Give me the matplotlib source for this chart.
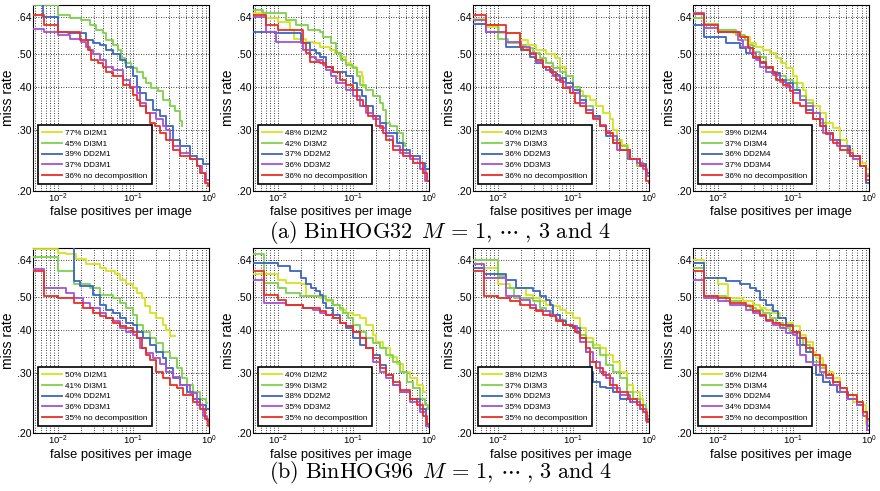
import matplotlib
matplotlib.use('Agg')
import matplotlib.pyplot as plt
from matplotlib.ticker import FixedLocator, FixedFormatter, LogLocator, NullFormatter, NullLocator

plt.rcParams['font.family'] = ['Liberation Sans', 'DejaVu Sans']
plt.rcParams['mathtext.fontset'] = 'custom'
plt.rcParams['mathtext.rm'] = 'Liberation Sans'
plt.rcParams['mathtext.it'] = 'Liberation Sans:italic'
plt.rcParams['mathtext.bf'] = 'Liberation Sans:bold'

# ---------------- data: (false positives per image, miss rate) ----------------
# (a) BinHOG32, M = 1
a1_di2 = [(0.0047, 0.95), (0.02, 0.90), (0.1, 0.83), (0.5, 0.76), (1.0, 0.74)]
a1_di3 = [(0.0047, 0.694), (0.01, 0.649), (0.0143, 0.635), (0.0204, 0.628), (0.0263, 0.607), (0.0323, 0.588),
          (0.0396, 0.575), (0.0438, 0.550), (0.0537, 0.532), (0.0625, 0.514), (0.0693, 0.487), (0.0767, 0.471),
          (0.094, 0.455), (0.110, 0.445), (0.134, 0.426), (0.149, 0.412), (0.173, 0.398), (0.212, 0.390),
          (0.248, 0.369), (0.303, 0.353), (0.354, 0.341), (0.412, 0.319), (0.434, 0.310), (0.44, 0.310)]
a1_dd2 = [(0.0047, 0.75), (0.0063, 0.640), (0.01, 0.581), (0.0136, 0.575), (0.0238, 0.550), (0.0292, 0.538),
          (0.0357, 0.532), (0.0438, 0.514), (0.0537, 0.500), (0.0659, 0.481), (0.0807, 0.460), (0.099, 0.431),
          (0.110, 0.400), (0.121, 0.385), (0.149, 0.369), (0.182, 0.345), (0.224, 0.330), (0.274, 0.309),
          (0.336, 0.282), (0.412, 0.270), (0.56, 0.253), (0.686, 0.247), (0.84, 0.239), (1.0, 0.239)]
a1_dd3 = [(0.0047, 0.590), (0.0065, 0.579), (0.01, 0.568), (0.0143, 0.552), (0.0204, 0.544), (0.0238, 0.526),
          (0.0263, 0.514), (0.0292, 0.500), (0.0357, 0.481), (0.0438, 0.460), (0.0537, 0.450), (0.073, 0.421),
          (0.0893, 0.400), (0.110, 0.385), (0.121, 0.360), (0.149, 0.337), (0.202, 0.323), (0.248, 0.309),
          (0.274, 0.300), (0.303, 0.282), (0.336, 0.270), (0.412, 0.258), (0.56, 0.247), (0.686, 0.236),
          (0.80, 0.226), (0.92, 0.216), (1.0, 0.216)]
a1_nod = [(0.0047, 0.652), (0.0065, 0.607), (0.01, 0.579), (0.0194, 0.550), (0.025, 0.514), (0.0277, 0.481),
          (0.034, 0.471), (0.0396, 0.460), (0.0438, 0.445), (0.0537, 0.431), (0.073, 0.407), (0.0893, 0.398),
          (0.099, 0.381), (0.110, 0.369), (0.121, 0.353), (0.149, 0.337), (0.165, 0.316), (0.192, 0.309),
          (0.224, 0.295), (0.274, 0.282), (0.336, 0.264), (0.412, 0.253), (0.56, 0.247), (0.686, 0.236),
          (0.76, 0.226), (0.88, 0.211), (0.96, 0.207), (1.0, 0.207)]

# (a) BinHOG32, M = 2
a2_di2 = [(0.0047, 0.657), (0.0070, 0.635), (0.01, 0.621), (0.0143, 0.588), (0.0166, 0.552), (0.0238, 0.544),
          (0.0292, 0.538), (0.0357, 0.526), (0.0486, 0.514), (0.0565, 0.503), (0.0659, 0.492), (0.0807, 0.471),
          (0.094, 0.460), (0.110, 0.445), (0.128, 0.431), (0.134, 0.400), (0.137, 0.400)]
a2_di3 = [(0.0047, 0.674), (0.0063, 0.657), (0.0129, 0.628), (0.0175, 0.607), (0.025, 0.588), (0.0357, 0.581),
          (0.0396, 0.562), (0.051, 0.538), (0.0594, 0.503), (0.0693, 0.481), (0.0807, 0.465), (0.099, 0.455),
          (0.110, 0.431), (0.121, 0.407), (0.149, 0.394), (0.182, 0.377), (0.224, 0.360), (0.248, 0.345),
          (0.274, 0.316), (0.303, 0.309), (0.372, 0.295), (0.456, 0.276), (0.48, 0.270), (0.49, 0.270)]
a2_dd2 = [(0.0047, 0.581), (0.0095, 0.575), (0.0204, 0.538), (0.0263, 0.514), (0.0323, 0.503), (0.0357, 0.492),
          (0.0438, 0.460), (0.0537, 0.445), (0.0807, 0.431), (0.099, 0.412), (0.110, 0.394), (0.128, 0.377),
          (0.149, 0.353), (0.182, 0.330), (0.224, 0.316), (0.274, 0.295), (0.372, 0.276), (0.456, 0.264),
          (0.56, 0.253), (0.76, 0.242), (0.885, 0.231), (1.0, 0.231)]
a2_dd3 = [(0.0047, 0.642), (0.0070, 0.581), (0.0095, 0.544), (0.0215, 0.514), (0.0263, 0.492), (0.0323, 0.481),
          (0.0396, 0.465), (0.0438, 0.450), (0.051, 0.431), (0.0594, 0.412), (0.0807, 0.394), (0.099, 0.377),
          (0.121, 0.353), (0.149, 0.337), (0.182, 0.323), (0.224, 0.305), (0.274, 0.289), (0.336, 0.270),
          (0.412, 0.258), (0.56, 0.247), (0.76, 0.231), (0.885, 0.214), (1.0, 0.214)]
a2_nod = [(0.0047, 0.649), (0.0070, 0.607), (0.01, 0.588), (0.0215, 0.538), (0.0238, 0.503), (0.0263, 0.476),
          (0.0357, 0.471), (0.0438, 0.460), (0.0537, 0.445), (0.0659, 0.421), (0.0807, 0.407), (0.099, 0.394),
          (0.110, 0.369), (0.134, 0.353), (0.157, 0.330), (0.202, 0.309), (0.248, 0.295), (0.274, 0.282),
          (0.336, 0.264), (0.456, 0.253), (0.619, 0.242), (0.84, 0.226), (0.95, 0.214), (1.0, 0.214)]

# (a) BinHOG32, M = 3
a3_di2 = [(0.0047, 0.631), (0.0070, 0.601), (0.0105, 0.575), (0.0194, 0.550), (0.025, 0.532), (0.0323, 0.514),
          (0.0438, 0.500), (0.0565, 0.487), (0.0659, 0.460), (0.0767, 0.450), (0.0807, 0.412), (0.099, 0.400),
          (0.110, 0.390), (0.134, 0.377), (0.165, 0.369), (0.202, 0.353), (0.248, 0.337), (0.303, 0.323),
          (0.336, 0.300), (0.372, 0.282), (0.434, 0.273), (0.532, 0.261), (0.55, 0.261)]
a3_di3 = [(0.0047, 0.614), (0.0070, 0.607), (0.01, 0.552), (0.0136, 0.538), (0.0194, 0.532), (0.0238, 0.520),
          (0.0292, 0.503), (0.0357, 0.487), (0.0438, 0.471), (0.0537, 0.455), (0.0659, 0.445), (0.0807, 0.431),
          (0.099, 0.400), (0.121, 0.377), (0.149, 0.353), (0.182, 0.330), (0.224, 0.309), (0.274, 0.295),
          (0.336, 0.282), (0.412, 0.270), (0.505, 0.247), (0.686, 0.236), (0.92, 0.226), (1.0, 0.226)]
a3_dd2 = [(0.0047, 0.612), (0.0070, 0.581), (0.0129, 0.526), (0.0204, 0.514), (0.0263, 0.492), (0.0323, 0.471),
          (0.0396, 0.460), (0.0438, 0.450), (0.0537, 0.435), (0.0659, 0.426), (0.0807, 0.412), (0.099, 0.394),
          (0.121, 0.369), (0.149, 0.345), (0.182, 0.330), (0.224, 0.309), (0.274, 0.289), (0.336, 0.276),
          (0.412, 0.264), (0.56, 0.247), (0.76, 0.239), (0.92, 0.226), (1.0, 0.226)]
a3_dd3 = [(0.0047, 0.628), (0.0070, 0.581), (0.0129, 0.544), (0.0204, 0.526), (0.0263, 0.503), (0.0323, 0.476),
          (0.0396, 0.460), (0.0438, 0.450), (0.0537, 0.431), (0.0659, 0.416), (0.0807, 0.400), (0.099, 0.385),
          (0.121, 0.360), (0.149, 0.345), (0.182, 0.326), (0.224, 0.312), (0.274, 0.298), (0.303, 0.289),
          (0.372, 0.264), (0.532, 0.247), (0.686, 0.242), (0.84, 0.231), (0.95, 0.221), (1.0, 0.221)]
a3_nod = [(0.0047, 0.649), (0.0070, 0.607), (0.0129, 0.575), (0.0194, 0.526), (0.0215, 0.514), (0.0263, 0.500),
          (0.0323, 0.481), (0.0396, 0.460), (0.0486, 0.445), (0.0594, 0.421), (0.073, 0.398), (0.0893, 0.385),
          (0.104, 0.360), (0.121, 0.353), (0.149, 0.337), (0.182, 0.323), (0.224, 0.309), (0.274, 0.295),
          (0.336, 0.276), (0.412, 0.264), (0.56, 0.247), (0.76, 0.236), (0.92, 0.214), (1.0, 0.211)]

# (a) BinHOG32, M = 4
a4_di2 = [(0.0047, 0.659), (0.0065, 0.614), (0.01, 0.588), (0.0159, 0.575), (0.0204, 0.562), (0.0263, 0.538),
          (0.0323, 0.526), (0.0396, 0.514), (0.0486, 0.503), (0.0594, 0.487), (0.0693, 0.471), (0.0807, 0.455),
          (0.099, 0.431), (0.110, 0.412), (0.134, 0.394), (0.149, 0.369), (0.182, 0.353), (0.224, 0.337),
          (0.274, 0.316), (0.336, 0.305), (0.412, 0.282), (0.505, 0.264), (0.619, 0.253), (0.76, 0.242),
          (0.92, 0.231), (1.0, 0.231)]
a4_di3 = [(0.0047, 0.635), (0.0065, 0.614), (0.01, 0.588), (0.0175, 0.568), (0.0226, 0.550), (0.025, 0.532),
          (0.0292, 0.509), (0.0357, 0.492), (0.0438, 0.460), (0.0537, 0.440), (0.0659, 0.431), (0.0807, 0.421),
          (0.099, 0.412), (0.110, 0.394), (0.121, 0.377), (0.149, 0.360), (0.182, 0.337), (0.224, 0.316),
          (0.274, 0.295), (0.336, 0.282), (0.412, 0.270), (0.505, 0.258), (0.619, 0.247), (0.76, 0.236),
          (0.92, 0.224), (1.0, 0.224)]
a4_dd2 = [(0.0047, 0.607), (0.0065, 0.562), (0.0129, 0.538), (0.0194, 0.520), (0.0238, 0.503), (0.0292, 0.487),
          (0.0357, 0.471), (0.0438, 0.455), (0.0537, 0.440), (0.0659, 0.421), (0.0807, 0.412), (0.099, 0.394),
          (0.121, 0.369), (0.149, 0.345), (0.182, 0.323), (0.224, 0.309), (0.274, 0.295), (0.336, 0.282),
          (0.412, 0.270), (0.56, 0.253), (0.76, 0.236), (0.92, 0.211), (1.0, 0.211)]
a4_dd3 = [(0.0047, 0.657), (0.0065, 0.594), (0.01, 0.581), (0.0184, 0.550), (0.0215, 0.526), (0.0263, 0.503),
          (0.0323, 0.481), (0.0357, 0.460), (0.0438, 0.445), (0.0537, 0.435), (0.0659, 0.416), (0.0807, 0.400),
          (0.099, 0.385), (0.121, 0.369), (0.149, 0.353), (0.182, 0.337), (0.224, 0.323), (0.248, 0.295),
          (0.303, 0.282), (0.372, 0.270), (0.532, 0.258), (0.619, 0.247), (0.76, 0.236), (0.92, 0.221),
          (1.0, 0.221)]
a4_nod = [(0.0047, 0.654), (0.0065, 0.607), (0.01, 0.581), (0.0194, 0.562), (0.025, 0.520), (0.0292, 0.492),
          (0.0357, 0.476), (0.0438, 0.460), (0.0537, 0.445), (0.0594, 0.421), (0.073, 0.407), (0.0893, 0.390),
          (0.099, 0.360), (0.121, 0.353), (0.149, 0.337), (0.182, 0.323), (0.224, 0.309), (0.274, 0.292),
          (0.336, 0.276), (0.412, 0.264), (0.56, 0.253), (0.76, 0.236), (0.92, 0.216), (1.0, 0.216)]

# (b) BinHOG96, M = 1
b1_di2 = [(0.0047, 0.689), (0.01, 0.674), (0.0129, 0.666), (0.0175, 0.644), (0.0238, 0.623), (0.0357, 0.609),
          (0.0438, 0.595), (0.0565, 0.582), (0.0659, 0.562), (0.0807, 0.544), (0.099, 0.531), (0.110, 0.514),
          (0.128, 0.497), (0.141, 0.469), (0.165, 0.449), (0.202, 0.434), (0.248, 0.414), (0.274, 0.401),
          (0.303, 0.385), (0.36, 0.385)]
b1_di3 = [(0.0047, 0.652), (0.01, 0.595), (0.0166, 0.544), (0.0263, 0.531), (0.0357, 0.508), (0.0537, 0.497),
          (0.0659, 0.480), (0.0807, 0.464), (0.099, 0.444), (0.110, 0.414), (0.134, 0.396), (0.165, 0.379),
          (0.202, 0.366), (0.248, 0.346), (0.303, 0.331), (0.372, 0.309), (0.434, 0.289), (0.505, 0.276),
          (0.619, 0.264), (0.76, 0.252), (0.92, 0.244), (0.95, 0.244)]
b1_dd2 = [(0.0047, 0.70), (0.0166, 0.556), (0.0194, 0.538), (0.0292, 0.508), (0.0357, 0.475), (0.0438, 0.459),
          (0.0537, 0.449), (0.0659, 0.434), (0.0807, 0.419), (0.099, 0.414), (0.110, 0.396), (0.134, 0.379),
          (0.165, 0.362), (0.202, 0.346), (0.248, 0.331), (0.274, 0.309), (0.336, 0.289), (0.412, 0.276),
          (0.505, 0.264), (0.619, 0.252), (0.76, 0.241), (0.92, 0.235), (1.0, 0.235)]
b1_dd3 = [(0.0047, 0.602), (0.0065, 0.531), (0.0129, 0.514), (0.0166, 0.497), (0.0215, 0.480), (0.0263, 0.464),
          (0.0357, 0.449), (0.0438, 0.434), (0.0537, 0.424), (0.0659, 0.405), (0.0807, 0.396), (0.099, 0.387),
          (0.110, 0.379), (0.121, 0.354), (0.149, 0.342), (0.182, 0.331), (0.224, 0.319), (0.274, 0.302),
          (0.336, 0.292), (0.412, 0.276), (0.56, 0.261), (0.686, 0.241), (0.84, 0.225), (0.95, 0.217),
          (1.0, 0.217)]
b1_nod = [(0.0047, 0.595), (0.0065, 0.502), (0.01, 0.497), (0.0166, 0.480), (0.0215, 0.464), (0.0292, 0.449),
          (0.0357, 0.439), (0.0438, 0.434), (0.0537, 0.419), (0.0659, 0.410), (0.0807, 0.405), (0.099, 0.396),
          (0.110, 0.379), (0.128, 0.354), (0.149, 0.338), (0.165, 0.327), (0.202, 0.302), (0.248, 0.289),
          (0.303, 0.276), (0.372, 0.270), (0.456, 0.258), (0.619, 0.246), (0.76, 0.235), (0.885, 0.220),
          (0.97, 0.210), (1.0, 0.210)]

# (b) BinHOG96, M = 2
b2_di2 = [(0.0047, 0.582), (0.01, 0.562), (0.0129, 0.550), (0.0204, 0.544), (0.0238, 0.502), (0.0357, 0.497),
          (0.0438, 0.486), (0.0537, 0.475), (0.0659, 0.459), (0.0807, 0.449), (0.099, 0.444), (0.121, 0.434),
          (0.149, 0.414), (0.182, 0.387), (0.202, 0.370), (0.248, 0.354), (0.303, 0.334), (0.372, 0.319),
          (0.456, 0.302), (0.56, 0.289), (0.686, 0.276), (0.84, 0.264), (0.88, 0.264)]
b2_di3 = [(0.0047, 0.666), (0.0065, 0.550), (0.01, 0.531), (0.0129, 0.514), (0.0194, 0.502), (0.0438, 0.491),
          (0.0537, 0.475), (0.0659, 0.464), (0.073, 0.449), (0.085, 0.434), (0.099, 0.414), (0.121, 0.396),
          (0.149, 0.379), (0.182, 0.366), (0.224, 0.354), (0.274, 0.338), (0.336, 0.323), (0.412, 0.302),
          (0.505, 0.282), (0.619, 0.270), (0.76, 0.252), (0.885, 0.241), (0.96, 0.235), (1.0, 0.235)]
b2_dd2 = [(0.0047, 0.630), (0.01, 0.616), (0.0143, 0.595), (0.0204, 0.569), (0.0238, 0.544), (0.0277, 0.531),
          (0.0323, 0.520), (0.0357, 0.508), (0.0396, 0.480), (0.0438, 0.464), (0.0537, 0.444), (0.0659, 0.419),
          (0.0807, 0.405), (0.099, 0.379), (0.121, 0.362), (0.149, 0.354), (0.182, 0.338), (0.224, 0.316),
          (0.274, 0.295), (0.336, 0.276), (0.412, 0.264), (0.56, 0.252), (0.76, 0.235), (0.92, 0.210),
          (1.0, 0.208)]
b2_dd3 = [(0.0047, 0.562), (0.0065, 0.480), (0.0129, 0.475), (0.0215, 0.464), (0.0292, 0.459), (0.0357, 0.449),
          (0.0438, 0.444), (0.0537, 0.434), (0.0659, 0.419), (0.0807, 0.410), (0.099, 0.396), (0.121, 0.379),
          (0.149, 0.354), (0.182, 0.323), (0.224, 0.302), (0.274, 0.289), (0.336, 0.276), (0.412, 0.264),
          (0.56, 0.246), (0.76, 0.230), (0.92, 0.210), (1.0, 0.208)]
b2_nod = [(0.0047, 0.595), (0.0065, 0.508), (0.01, 0.491), (0.0129, 0.475), (0.0215, 0.464), (0.0357, 0.454),
          (0.0438, 0.444), (0.0537, 0.434), (0.0659, 0.419), (0.0807, 0.410), (0.099, 0.396), (0.121, 0.379),
          (0.149, 0.354), (0.182, 0.331), (0.224, 0.309), (0.274, 0.295), (0.336, 0.282), (0.412, 0.267),
          (0.56, 0.252), (0.686, 0.241), (0.84, 0.225), (0.95, 0.212), (1.0, 0.212)]

# (b) BinHOG96, M = 3
b3_di2 = [(0.0047, 0.623), (0.0065, 0.609), (0.01, 0.544), (0.0143, 0.531), (0.0238, 0.508), (0.0292, 0.497),
          (0.0357, 0.486), (0.0438, 0.475), (0.0537, 0.469), (0.0659, 0.459), (0.0807, 0.449), (0.099, 0.434),
          (0.121, 0.405), (0.149, 0.379), (0.182, 0.362), (0.224, 0.354), (0.274, 0.338), (0.336, 0.323),
          (0.412, 0.302), (0.505, 0.276), (0.619, 0.264), (0.76, 0.252), (0.84, 0.235), (0.95, 0.220),
          (1.0, 0.220)]
b3_di3 = [(0.0047, 0.640), (0.01, 0.575), (0.0129, 0.531), (0.0166, 0.497), (0.0292, 0.486), (0.0357, 0.464),
          (0.0438, 0.454), (0.0537, 0.444), (0.0659, 0.429), (0.0807, 0.414), (0.099, 0.405), (0.121, 0.387),
          (0.149, 0.370), (0.182, 0.354), (0.224, 0.338), (0.274, 0.316), (0.336, 0.302), (0.412, 0.289),
          (0.505, 0.264), (0.619, 0.252), (0.76, 0.241), (0.92, 0.225), (1.0, 0.225)]
b3_dd2 = [(0.0047, 0.609), (0.0065, 0.582), (0.0129, 0.562), (0.0175, 0.531), (0.0292, 0.520), (0.0357, 0.502),
          (0.0438, 0.491), (0.0486, 0.475), (0.0537, 0.444), (0.0659, 0.424), (0.0807, 0.414), (0.099, 0.405),
          (0.121, 0.379), (0.149, 0.346), (0.165, 0.302), (0.182, 0.282), (0.224, 0.273), (0.274, 0.270),
          (0.336, 0.264), (0.412, 0.252), (0.56, 0.246), (0.76, 0.235), (0.92, 0.220), (1.0, 0.220)]
b3_dd3 = [(0.0047, 0.626), (0.0065, 0.569), (0.0129, 0.502), (0.0194, 0.491), (0.0263, 0.475), (0.0323, 0.459),
          (0.0396, 0.454), (0.0486, 0.444), (0.0594, 0.429), (0.073, 0.414), (0.0893, 0.410), (0.110, 0.392),
          (0.121, 0.370), (0.149, 0.346), (0.182, 0.323), (0.224, 0.302), (0.274, 0.289), (0.336, 0.270),
          (0.412, 0.258), (0.56, 0.246), (0.76, 0.235), (0.92, 0.217), (1.0, 0.217)]
b3_nod = [(0.0047, 0.595), (0.0065, 0.502), (0.01, 0.497), (0.0143, 0.486), (0.0194, 0.475), (0.0263, 0.464),
          (0.0323, 0.454), (0.0396, 0.444), (0.0486, 0.439), (0.0594, 0.424), (0.073, 0.414), (0.0893, 0.410),
          (0.104, 0.396), (0.121, 0.379), (0.149, 0.354), (0.165, 0.323), (0.202, 0.309), (0.248, 0.295),
          (0.303, 0.276), (0.372, 0.264), (0.532, 0.252), (0.686, 0.241), (0.84, 0.230), (0.95, 0.215),
          (1.0, 0.215)]

# (b) BinHOG96, M = 4
b4_di2 = [(0.0047, 0.640), (0.0065, 0.569), (0.01, 0.544), (0.0136, 0.497), (0.0215, 0.486), (0.0292, 0.475),
          (0.0357, 0.464), (0.0438, 0.459), (0.0537, 0.449), (0.0659, 0.434), (0.0807, 0.419), (0.099, 0.410),
          (0.121, 0.387), (0.149, 0.370), (0.182, 0.346), (0.202, 0.331), (0.248, 0.312), (0.274, 0.302),
          (0.336, 0.289), (0.412, 0.270), (0.505, 0.258), (0.619, 0.246), (0.76, 0.241), (0.92, 0.212),
          (1.0, 0.212)]
b4_di3 = [(0.0047, 0.607), (0.0065, 0.502), (0.0129, 0.486), (0.0204, 0.475), (0.0263, 0.464), (0.0323, 0.459),
          (0.0396, 0.449), (0.0486, 0.434), (0.0594, 0.419), (0.073, 0.405), (0.0893, 0.396), (0.099, 0.392),
          (0.121, 0.379), (0.134, 0.362), (0.165, 0.346), (0.182, 0.323), (0.224, 0.309), (0.274, 0.295),
          (0.336, 0.282), (0.412, 0.270), (0.505, 0.258), (0.686, 0.246), (0.84, 0.230), (0.95, 0.217),
          (1.0, 0.217)]
b4_dd2 = [(0.0047, 0.630), (0.0065, 0.569), (0.0129, 0.556), (0.0194, 0.544), (0.0263, 0.531), (0.0323, 0.520),
          (0.0357, 0.491), (0.0438, 0.475), (0.0537, 0.454), (0.0625, 0.434), (0.0807, 0.414), (0.099, 0.396),
          (0.110, 0.379), (0.121, 0.362), (0.149, 0.346), (0.182, 0.316), (0.202, 0.295), (0.248, 0.282),
          (0.303, 0.276), (0.372, 0.264), (0.532, 0.252), (0.686, 0.241), (0.84, 0.230), (0.95, 0.210),
          (1.0, 0.210)]
b4_dd3 = [(0.0047, 0.562), (0.0065, 0.497), (0.01, 0.486), (0.0143, 0.475), (0.0238, 0.459), (0.0292, 0.449),
          (0.0357, 0.439), (0.0438, 0.424), (0.0537, 0.414), (0.0659, 0.405), (0.0807, 0.392), (0.099, 0.387),
          (0.110, 0.362), (0.121, 0.338), (0.149, 0.323), (0.182, 0.316), (0.224, 0.302), (0.274, 0.289),
          (0.336, 0.276), (0.412, 0.264), (0.505, 0.252), (0.686, 0.241), (0.84, 0.225), (0.95, 0.204),
          (1.0, 0.204)]
b4_nod = [(0.0047, 0.595), (0.0065, 0.502), (0.01, 0.497), (0.0143, 0.480), (0.0238, 0.469), (0.0292, 0.454),
          (0.0357, 0.444), (0.0438, 0.429), (0.0537, 0.419), (0.0659, 0.414), (0.0807, 0.410), (0.099, 0.396),
          (0.121, 0.379), (0.149, 0.354), (0.182, 0.338), (0.224, 0.316), (0.274, 0.295), (0.336, 0.282),
          (0.412, 0.270), (0.505, 0.258), (0.686, 0.246), (0.84, 0.230), (0.95, 0.220), (1.0, 0.220)]

# legend labels
labels_a1 = ['77% DI2M1', '45% DI3M1', '39% DD2M1', '37% DD3M1', '36% no decomposition']
labels_a2 = ['48% DI2M2', '42% DI3M2', '37% DD2M2', '36% DD3M2', '36% no decomposition']
labels_a3 = ['40% DI2M3', '37% DI3M3', '36% DD2M3', '36% DD3M3', '36% no decomposition']
labels_a4 = ['39% DI2M4', '37% DI3M4', '36% DD2M4', '37% DD3M4', '36% no decomposition']
labels_b1 = ['50% DI2M1', '41% DI3M1', '40% DD2M1', '36% DD3M1', '35% no decomposition']
labels_b2 = ['40% DI2M2', '39% DI3M2', '38% DD2M2', '35% DD3M2', '35% no decomposition']
labels_b3 = ['38% DI2M3', '37% DI3M3', '36% DD2M3', '35% DD3M3', '35% no decomposition']
labels_b4 = ['36% DI2M4', '35% DI3M4', '36% DD2M4', '34% DD3M4', '35% no decomposition']

y_ticks = [0.20, 0.30, 0.40, 0.50, 0.64]
y_tick_labels = ['.20', '.30', '.40', '.50', '.64']
x_range = (0.0047, 1.0)
y_range = (0.2, 0.695)

captions = [r'$\mathrm{(a)}\ \mathrm{BinHOG32}\ \,M\,=\,1,\,\cdots\;,\,3\ \mathrm{and}\ 4$',
            r'$\mathrm{(b)}\ \mathrm{BinHOG96}\ \,M\,=\,1,\,\cdots\;,\,3\ \mathrm{and}\ 4$']

colors = ['#d2e41e', '#7ed24c', '#3b66c4', '#a552d8', '#ec2f26']

panels = [
    ([a1_di2, a1_di3, a1_dd2, a1_dd3, a1_nod], labels_a1),
    ([a2_di2, a2_di3, a2_dd2, a2_dd3, a2_nod], labels_a2),
    ([a3_di2, a3_di3, a3_dd2, a3_dd3, a3_nod], labels_a3),
    ([a4_di2, a4_di3, a4_dd2, a4_dd3, a4_nod], labels_a4),
    ([b1_di2, b1_di3, b1_dd2, b1_dd3, b1_nod], labels_b1),
    ([b2_di2, b2_di3, b2_dd2, b2_dd3, b2_nod], labels_b2),
    ([b3_di2, b3_di3, b3_dd2, b3_dd3, b3_nod], labels_b3),
    ([b4_di2, b4_di3, b4_dd2, b4_dd3, b4_nod], labels_b4),
]

W, H = 880, 491
fig = plt.figure(figsize=(W / 100, H / 100), dpi=100)

row_top_px = [5, 248]
row_h_px = [186, 185]
xlabel_gap_px = [21, 22]
for i, (series, labels) in enumerate(panels):
    r, c = divmod(i, 4)
    left = (33 + 220 * c) / W
    bottom = 1 - (row_top_px[r] + row_h_px[r]) / H
    ax = fig.add_axes([left, bottom, 176 / W, row_h_px[r] / H])
    ax.set_xscale('log')
    ax.set_yscale('log')
    for pts, lab, col in zip(series, labels, colors):
        xs, ys = zip(*pts)
        ax.plot(xs, ys, drawstyle='steps-post', color=col, lw=1.3, label=lab, zorder=3)
    ax.set_xlim(*x_range)
    ax.set_ylim(*y_range)
    ax.yaxis.set_major_locator(FixedLocator(y_ticks))
    ax.yaxis.set_major_formatter(FixedFormatter(y_tick_labels))
    ax.yaxis.set_minor_locator(NullLocator())
    ax.xaxis.set_major_locator(LogLocator(base=10, numticks=10))
    ax.xaxis.set_minor_locator(LogLocator(base=10, subs=[2, 3, 4, 5, 6, 7, 8, 9], numticks=20))
    ax.xaxis.set_minor_formatter(NullFormatter())
    ax.grid(True, which='major', axis='both', color='k', ls=(0, (1, 2)), lw=0.6, zorder=0)
    ax.grid(True, which='minor', axis='x', color='k', ls=(0, (1, 2)), lw=0.6, zorder=0)
    ax.set_axisbelow(True)
    ax.tick_params(axis='both', which='both', direction='in', length=0)
    ax.tick_params(axis='y', labelsize=7.6, pad=1)
    ax.tick_params(axis='x', labelsize=6.8, pad=0.8)
    for sp in ax.spines.values():
        sp.set_linewidth(0.8)
        sp.set_color('k')
    ax.set_xlabel('false positives per image', fontsize=9.3, va='center')
    ax.xaxis.set_label_coords(0.5, -xlabel_gap_px[r] / row_h_px[r])
    ax.set_ylabel('miss rate', fontsize=10, va='center')
    ax.yaxis.set_label_coords(-24.5 / 176, 0.5)
    leg = ax.legend(loc='lower left', bbox_to_anchor=(0.028, 0.037), borderaxespad=0,
                    fontsize=5.9, handlelength=2.4, handletextpad=0.35, labelspacing=0.35,
                    borderpad=0.55, fancybox=False, framealpha=1, edgecolor='k')
    leg.get_frame().set_linewidth(1.2)
    for ln in leg.get_lines():
        ln.set_linewidth(1.3)

fig.text(0.5, 1 - 232 / H, captions[0], ha='center', va='center', fontsize=16, math_fontfamily='cm')
fig.text(0.5, 1 - 473 / H, captions[1], ha='center', va='center', fontsize=16, math_fontfamily='cm')

fig.savefig('out.png', dpi=100)
